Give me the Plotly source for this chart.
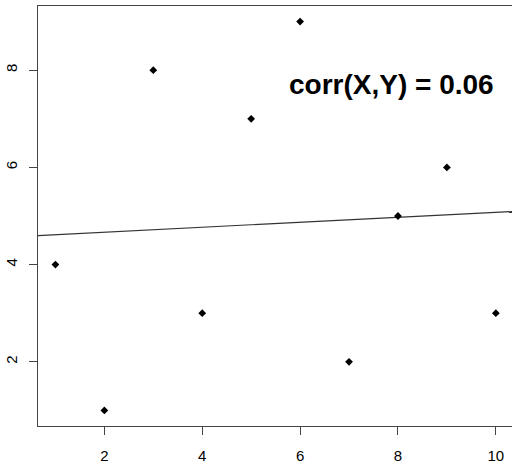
import plotly.graph_objects as go
import numpy as np

x_vals = [1, 2, 3, 4, 5, 6, 7, 8, 9, 10]
y_vals = [4, 1, 8, 3, 7, 9, 2, 5, 6, 3]
x_ticks = [2, 4, 6, 8, 10]
y_ticks = [2, 4, 6, 8]
line_intercept = 4.565
line_slope = 0.051
label_text = "corr(X,Y) = 0.06"

x_range = [0.644, 10.33]
y_range = [0.68, 9.32]

fig = go.Figure()
lx = np.array(x_range)
fig.add_trace(go.Scatter(x=lx, y=line_intercept + line_slope * lx, mode="lines",
                         line=dict(color="#333333", width=1.2), hoverinfo="skip"))
fig.add_trace(go.Scatter(x=x_vals, y=y_vals, mode="markers",
                         marker=dict(symbol="diamond", size=6, color="black"),
                         hoverinfo="skip"))

fig.add_annotation(x=7.87, y=7.7, text="<b>" + label_text + "</b>", showarrow=False,
                   xanchor="center", yanchor="middle",
                   font=dict(family="Liberation Sans, Arial", size=28, color="black"))

axis_font = dict(family="Liberation Sans, Arial", size=15, color="black")
fig.update_layout(
    width=512, height=465,
    margin=dict(l=38, r=0, t=6, b=39, autoexpand=False),
    paper_bgcolor="white", plot_bgcolor="white",
    showlegend=False,
    xaxis=dict(range=x_range, tickvals=x_ticks, ticks="outside", ticklen=8,
               tickcolor="#444444", showline=True, linecolor="#444444", linewidth=1,
               mirror=True, showgrid=False, zeroline=False, tickfont=axis_font,
               ticklabelstandoff=8, automargin=False),
    yaxis=dict(range=y_range, tickvals=y_ticks, ticks="outside", ticklen=8,
               tickcolor="#444444", showline=True, linecolor="#444444", linewidth=1,
               mirror=False, showgrid=False, zeroline=False, tickfont=axis_font,
               tickangle=-90, ticklabelstandoff=6, automargin=False),
)
fig.write_html("out.html", post_script="document.body.style.margin='0';",
               config={"displayModeBar": False})
